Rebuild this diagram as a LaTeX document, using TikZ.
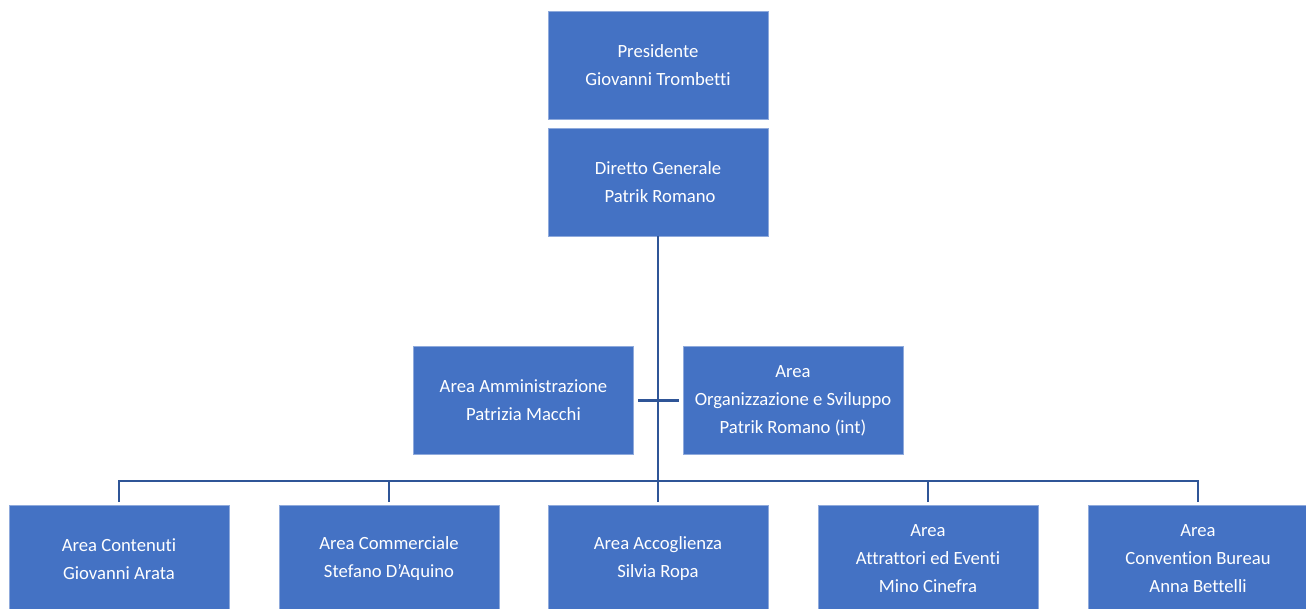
\documentclass[tikz,border=0pt]{standalone}
\usepackage{fontspec}
\setmainfont[Ligatures=NoCommon]{Carlito}
\usetikzlibrary{calc}
\definecolor{boxblue}{HTML}{4472C4}
\definecolor{lineblue}{HTML}{2F5597}
\tikzset{
	areabox/.style={rectangle, fill=boxblue, draw=boxblue!60!white, line width=0.4pt, text=white,
		minimum width=165pt, minimum height=81pt, align=center, inner sep=0pt,
		font=\fontsize{14}{21}\selectfont},
	link/.style={line width=2.2pt, color=lineblue}
}

\begin{document}
\begin{tikzpicture}[x=0.75pt, y=-0.75pt]
			%%%%% START %%%%%
			\useasboundingbox (0, 0) rectangle (1306, 608);
			
			\node[areabox] (pres) at (658, 65) {Presidente\\Giovanni Trombetti};
			\node[areabox] (dirgen) at (658, 182) {Diretto Generale\\\ Patrik Romano};
			
			\node[areabox] (amm) at (523.5, 400.5) {Area Amministrazione\\Patrizia Macchi};
			\node[areabox] (org) at (793, 400.5) {Area\\Organizzazione e Sviluppo\\Patrik Romano (int)};
			
			\node[areabox] (cont) at (119, 559) {Area Contenuti\\Giovanni Arata};
			\node[areabox] (comm) at (389, 559) {Area Commerciale\\Stefano D’Aquino};
			\node[areabox] (acc) at (658, 559) {Area Accoglienza\\Silvia Ropa};
			\node[areabox] (attr) at (928, 559) {Area\\Attrattori ed Eventi\\Mino Cinefra};
			\node[areabox] (conv) at (1198, 559) {Area\\Convention Bureau\\Anna Bettelli};
			
			\coordinate (bus) at (658, 481);
			
			\draw[link] (dirgen.south) -- (bus);
			\draw[link, shorten <=3pt, shorten >=3pt] (amm.east) -- (org.west);
			
			\foreach \b in {cont, comm, acc, attr, conv}
			\draw[link, shorten <=2pt] (\b.north) |- (bus);
			
			%%%%% END %%%%%
		\end{tikzpicture}
\end{document}
